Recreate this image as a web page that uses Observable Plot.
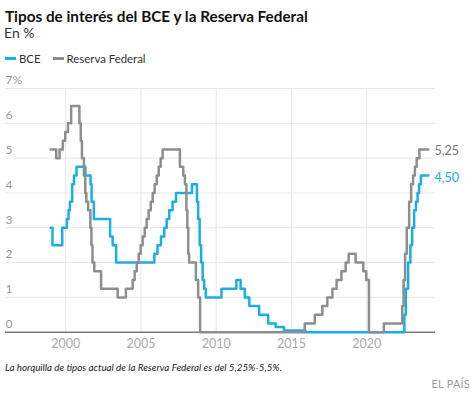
<!DOCTYPE html>
<html>
<head>
<meta charset="utf-8">
<script src="https://cdn.jsdelivr.net/npm/d3@7"></script>
<script src="https://cdn.jsdelivr.net/npm/@observablehq/plot@0.6"></script>
<style>
  html, body { margin: 0; padding: 0; background: #fff; }
  body { width: 474px; height: 396px; position: relative; overflow: hidden; font-family: Lato, "Open Sans", sans-serif; color: #222; }
  .abs { position: absolute; white-space: nowrap; }
  #title { left: 5px; top: 8.5px; font-size: 15.3px; line-height: 15.3px; font-weight: 700; color: #111; }
  #sub { left: 4px; top: 25.5px; font-size: 14px; line-height: 14px; color: #333; }
  #legend { left: 5px; top: 52.5px; font-size: 11.4px; line-height: 11.4px; color: #333; }
  #legend .sw { display: inline-block; width: 11px; height: 3px; vertical-align: middle; margin-right: 3px; position: relative; top: -1px; }
  #legend .item { margin-right: 12px; }
  #chart { left: 0; top: 72px; }
  #caption { left: 5px; top: 362.5px; font-size: 9.8px; line-height: 9.8px; font-style: italic; color: #222; }
  #source { right: 4px; top: 378.5px; font-size: 10.8px; line-height: 10.8px; color: #999; letter-spacing: 0.3px; }
</style>
</head>
<body>
<div id="title" class="abs">Tipos de interés del BCE y la Reserva Federal</div>
<div id="sub" class="abs">En %</div>
<div id="legend" class="abs"><span class="item"><span class="sw" style="background:#19aee6"></span>BCE</span><span class="item"><span class="sw" style="background:#8e8e8e"></span>Reserva Federal</span></div>
<div id="chart" class="abs"></div>
<div id="caption" class="abs">La horquilla de tipos actual de la Reserva Federal es del 5,25%-5,5%.</div>
<div id="source" class="abs">EL PAÍS</div>
<script>
const fechasBCE = [1999.0, 1999.12, 1999.77, 2000.08, 2000.19, 2000.28, 2000.43, 2000.55, 2000.72, 2001.31, 2001.65, 2001.72, 2001.87, 2002.95, 2003.12, 2003.35, 2005.89, 2006.1, 2006.33, 2006.55, 2006.71, 2006.88, 2007.1, 2007.33, 2008.39, 2008.72, 2008.8, 2008.9, 2009.0, 2009.1, 2009.2, 2009.31, 2010.35, 2011.34, 2011.62, 2011.9, 2012.2, 2012.85, 2013.45, 2013.95, 2014.5, 2015.93, 2022.5, 2022.6, 2022.75, 2022.9, 2023.02, 2023.15, 2023.27, 2023.38, 2023.48, 2023.6, 2024.1];
const tiposBCE = [3.0, 2.5, 3.0, 3.25, 3.5, 3.75, 4.25, 4.5, 4.75, 4.5, 4.25, 3.75, 3.25, 2.75, 2.5, 2.0, 2.25, 2.5, 2.75, 3.0, 3.25, 3.5, 3.75, 4.0, 4.25, 3.75, 3.25, 2.5, 2.0, 1.5, 1.25, 1.0, 1.25, 1.5, 1.25, 1.0, 0.75, 0.5, 0.25, 0.15, 0.05, 0, 0.5, 1.25, 2.0, 2.5, 3.0, 3.5, 3.75, 4.0, 4.25, 4.5, 4.5];

const fechasFed = [1999.0, 1999.37, 1999.59, 1999.81, 1999.97, 2000.15, 2000.36, 2000.91, 2001.0, 2001.08, 2001.21, 2001.3, 2001.37, 2001.49, 2001.64, 2001.71, 2001.78, 2001.9, 2002.35, 2003.45, 2004.0, 2004.45, 2004.58, 2004.72, 2004.85, 2004.98, 2005.11, 2005.25, 2005.38, 2005.51, 2005.65, 2005.78, 2005.91, 2006.05, 2006.18, 2006.31, 2006.44, 2007.59, 2007.81, 2007.92, 2008.02, 2008.08, 2008.14, 2008.2, 2008.65, 2008.8, 2008.93, 2015.88, 2016.55, 2017.05, 2017.38, 2017.72, 2018.0, 2018.32, 2018.6, 2018.8, 2019.26, 2019.77, 2019.97, 2020.15, 2021.14, 2022.36, 2022.45, 2022.55, 2022.66, 2022.82, 2022.95, 2023.08, 2023.2, 2023.32, 2023.5, 2024.1];
const tiposFed = [5.25, 5.0, 5.25, 5.5, 5.75, 6.0, 6.5, 6.0, 5.5, 5.0, 4.5, 4.0, 3.75, 3.5, 3.0, 2.5, 2.0, 1.75, 1.25, 1.0, 1.25, 1.5, 1.75, 2.0, 2.25, 2.5, 2.75, 3.0, 3.25, 3.5, 3.75, 4.0, 4.25, 4.5, 4.75, 5.0, 5.25, 4.75, 4.5, 4.25, 3.5, 3.0, 2.25, 2.0, 1.5, 1.0, 0, 0.25, 0.5, 0.75, 1.0, 1.25, 1.5, 1.75, 2.0, 2.25, 2.0, 1.75, 1.5, 0, 0.25, 0.75, 1.5, 2.25, 3.0, 3.75, 4.25, 4.5, 4.75, 5.0, 5.25, 5.25];

const ticksX = [2000, 2005, 2010, 2015, 2020];
const ticksY = [0, 1, 2, 3, 4, 5, 6, 7];
const etiquetasFinales = ["4,50", "5,25"];

const azul = "#19aee6";
const gris = "#8e8e8e";

const bce = fechasBCE.map((f, i) => ({fecha: f, tipo: tiposBCE[i]}));
const fed = fechasFed.map((f, i) => ({fecha: f, tipo: tiposFed[i]}));
const finales = [
  {fecha: fechasBCE[fechasBCE.length - 1], tipo: tiposBCE[tiposBCE.length - 1], texto: etiquetasFinales[0], color: azul},
  {fecha: fechasFed[fechasFed.length - 1], tipo: tiposFed[tiposFed.length - 1], texto: etiquetasFinales[1], color: "#777"}
];

const chart = Plot.plot({
  width: 474,
  height: 285,
  marginLeft: 5,
  marginRight: 39,
  marginTop: 16,
  marginBottom: 25.3,
  x: {domain: [1996, 2024.57], label: null},
  y: {domain: [0, 7], label: null},
  style: {fontFamily: "Lato, sans-serif", background: "transparent", overflow: "visible"},
  marks: [
    Plot.gridY(ticksY, {stroke: "#e6e6e6", strokeOpacity: 1}),
    Plot.gridX(ticksX, {stroke: "#e6e6e6", strokeOpacity: 1}),
    Plot.axisY(ticksY, {tickSize: 0, tickPadding: 0, textAnchor: "start", dy: -8, fill: "#999", fontSize: 12, label: null, tickFormat: d => d === 7 ? "7%" : String(d)}),
    Plot.axisX(ticksX, {tickSize: 0, tickPadding: 7, fill: "#aaa", fontSize: 12.5, label: null, tickFormat: d => String(d)}),
    Plot.ruleY([0], {stroke: "#444", strokeWidth: 1}),
    Plot.line(bce, {x: "fecha", y: "tipo", curve: "step-after", stroke: azul, strokeWidth: 2.5}),
    Plot.line(fed, {x: "fecha", y: "tipo", curve: "step-after", stroke: gris, strokeWidth: 2.5}),
    Plot.text(finales, {x: "fecha", y: "tipo", text: "texto", fill: d => d.color, textAnchor: "start", dx: 6, dy: 2, fontSize: 12.5})
  ]
});
document.getElementById("chart").appendChild(chart);
</script>
</body>
</html>
